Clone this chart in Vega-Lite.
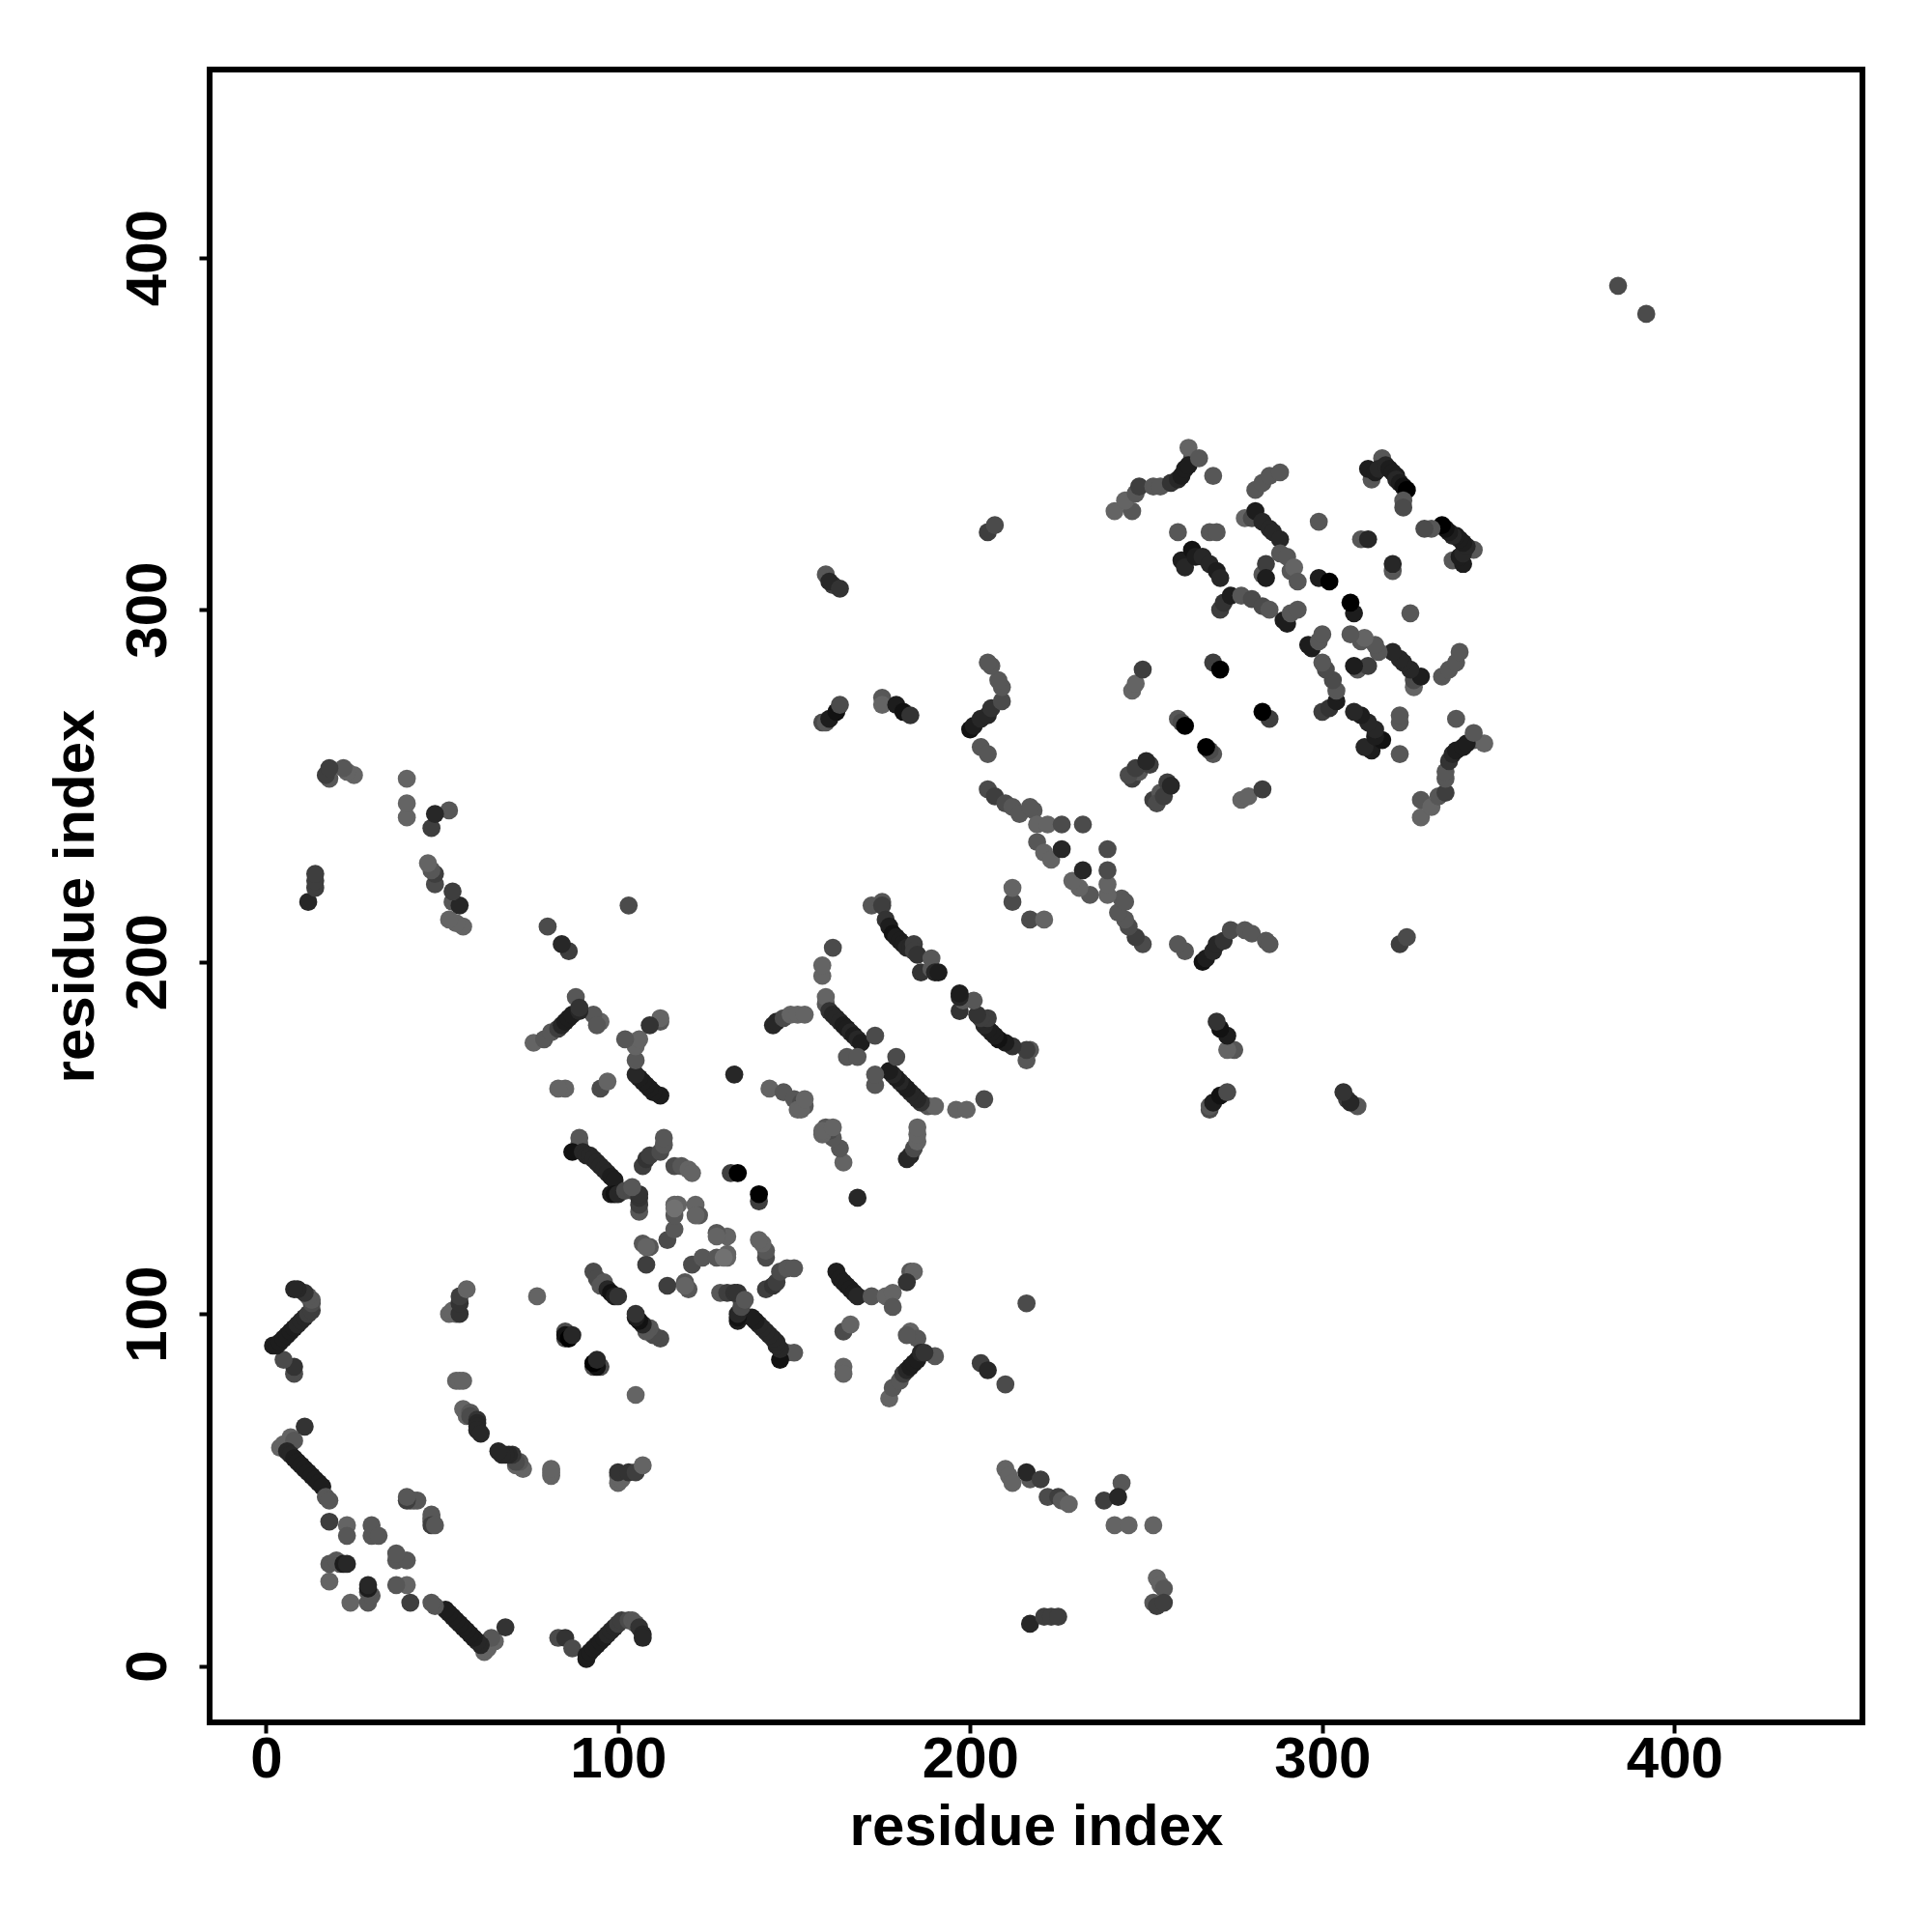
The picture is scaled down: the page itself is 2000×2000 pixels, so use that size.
{"$schema":"https://vega.github.io/schema/vega-lite/v6.json","autosize":"none","padding":{"left":217,"top":72,"right":72,"bottom":217},"width":1711,"height":1711,"background":"white","view":{"stroke":"#000","strokeWidth":6,"fill":null},
"data":{"values":[
{"i":8,"j":83,"d":6},{"i":83,"j":8,"d":6},{"i":8,"j":85,"d":4},{"i":85,"j":8,"d":4},{"i":5,"j":87,"d":6},{"i":87,"j":5,"d":6},{"i":2,"j":91,"d":2},{"i":91,"j":2,"d":2},{"i":3,"j":91,"d":2},{"i":91,"j":3,"d":2},{"i":4,"j":92,"d":2},{"i":92,"j":4,"d":2},{"i":5,"j":93,"d":2},{"i":93,"j":5,"d":2},{"i":6,"j":94,"d":2},{"i":94,"j":6,"d":2},{"i":7,"j":95,"d":2},{"i":95,"j":7,"d":2},{"i":8,"j":96,"d":2},{"i":96,"j":8,"d":2},{"i":9,"j":97,"d":3},{"i":97,"j":9,"d":3},{"i":10,"j":98,"d":3},{"i":98,"j":10,"d":3},{"i":11,"j":99,"d":3},{"i":99,"j":11,"d":3},{"i":12,"j":100,"d":5},{"i":100,"j":12,"d":5},{"i":13,"j":101,"d":5},{"i":101,"j":13,"d":5},{"i":13,"j":103,"d":6},{"i":103,"j":13,"d":6},{"i":13,"j":104,"d":7},{"i":104,"j":13,"d":7},{"i":12,"j":105,"d":7},{"i":105,"j":12,"d":7},{"i":11,"j":106,"d":4},{"i":106,"j":11,"d":4},{"i":9,"j":107,"d":3},{"i":107,"j":9,"d":3},{"i":8,"j":107,"d":3},{"i":107,"j":8,"d":3},
{"i":4,"j":62,"d":8},{"i":62,"j":4,"d":8},{"i":5,"j":63,"d":8},{"i":63,"j":5,"d":8},{"i":7,"j":65,"d":8},{"i":65,"j":7,"d":8},{"i":8,"j":64,"d":7},{"i":64,"j":8,"d":7},{"i":6,"j":61,"d":3},{"i":61,"j":6,"d":3},{"i":7,"j":60,"d":3},{"i":60,"j":7,"d":3},{"i":8,"j":59,"d":2},{"i":59,"j":8,"d":2},{"i":9,"j":58,"d":2},{"i":58,"j":9,"d":2},{"i":10,"j":57,"d":2},{"i":57,"j":10,"d":2},{"i":11,"j":56,"d":2},{"i":56,"j":11,"d":2},{"i":12,"j":55,"d":2},{"i":55,"j":12,"d":2},{"i":13,"j":54,"d":2},{"i":54,"j":13,"d":2},{"i":14,"j":53,"d":2},{"i":53,"j":14,"d":2},{"i":15,"j":52,"d":2},{"i":52,"j":15,"d":2},{"i":16,"j":51,"d":2},{"i":51,"j":16,"d":2},{"i":17,"j":48,"d":7},{"i":48,"j":17,"d":7},{"i":18,"j":47,"d":7},{"i":47,"j":18,"d":7},{"i":11,"j":68,"d":4},{"i":68,"j":11,"d":4},
{"i":18,"j":41,"d":5},{"i":41,"j":18,"d":5},{"i":18,"j":24,"d":8},{"i":24,"j":18,"d":8},{"i":23,"j":40,"d":8},{"i":40,"j":23,"d":8},{"i":23,"j":37,"d":7},{"i":37,"j":23,"d":7},{"i":18,"j":29,"d":7},{"i":29,"j":18,"d":7},{"i":21,"j":29,"d":7},{"i":29,"j":21,"d":7},{"i":20,"j":30,"d":7},{"i":30,"j":20,"d":7},{"i":22,"j":29,"d":2},{"i":29,"j":22,"d":2},{"i":23,"j":29,"d":3},{"i":29,"j":23,"d":3},{"i":30,"j":37,"d":7},{"i":37,"j":30,"d":7},{"i":30,"j":40,"d":7},{"i":40,"j":30,"d":7},{"i":32,"j":37,"d":7},{"i":37,"j":32,"d":7},{"i":41,"j":47,"d":7},{"i":47,"j":41,"d":7},{"i":42,"j":47,"d":7},{"i":47,"j":42,"d":7},{"i":43,"j":47,"d":7},{"i":47,"j":43,"d":7},{"i":47,"j":40,"d":5},{"i":40,"j":47,"d":5},{"i":48,"j":40,"d":7},{"i":40,"j":48,"d":7},
{"i":52,"j":100,"d":8},{"i":100,"j":52,"d":8},{"i":54,"j":100,"d":8},{"i":100,"j":54,"d":8},{"i":53,"j":101,"d":8},{"i":101,"j":53,"d":8},{"i":55,"j":100,"d":4},{"i":100,"j":55,"d":4},{"i":55,"j":103,"d":4},{"i":103,"j":55,"d":4},{"i":55,"j":105,"d":5},{"i":105,"j":55,"d":5},{"i":57,"j":107,"d":8},{"i":107,"j":57,"d":8},{"i":54,"j":81,"d":8},{"i":81,"j":54,"d":8},{"i":55,"j":81,"d":8},{"i":81,"j":55,"d":8},{"i":56,"j":81,"d":8},{"i":81,"j":56,"d":8},{"i":56,"j":73,"d":8},{"i":73,"j":56,"d":8},{"i":57,"j":71,"d":8},{"i":71,"j":57,"d":8},{"i":58,"j":72,"d":7},{"i":72,"j":58,"d":7},{"i":58,"j":71,"d":6},{"i":71,"j":58,"d":6},{"i":60,"j":70,"d":4},{"i":70,"j":60,"d":4},{"i":60,"j":69,"d":3},{"i":69,"j":60,"d":3},{"i":60,"j":68,"d":3},{"i":68,"j":60,"d":3},{"i":60,"j":67,"d":3},{"i":67,"j":60,"d":3},{"i":61,"j":66,"d":3},{"i":66,"j":61,"d":3},
{"i":77,"j":105,"d":8},{"i":105,"j":77,"d":8},{"i":85,"j":93,"d":6},{"i":93,"j":85,"d":6},{"i":85,"j":95,"d":6},{"i":95,"j":85,"d":6},{"i":85,"j":94,"d":1},{"i":94,"j":85,"d":1},{"i":86,"j":93,"d":0},{"i":93,"j":86,"d":0},{"i":87,"j":94,"d":3},{"i":94,"j":87,"d":3},{"i":93,"j":112,"d":6},{"i":112,"j":93,"d":6},{"i":94,"j":110,"d":6},{"i":110,"j":94,"d":6},{"i":96,"j":109,"d":7},{"i":109,"j":96,"d":7},{"i":95,"j":108,"d":7},{"i":108,"j":95,"d":7},{"i":97,"j":107,"d":3},{"i":107,"j":97,"d":3},{"i":98,"j":106,"d":1},{"i":106,"j":98,"d":1},{"i":99,"j":105,"d":2},{"i":105,"j":99,"d":2},{"i":100,"j":105,"d":4},{"i":105,"j":100,"d":4},
{"i":89,"j":148,"d":7},{"i":148,"j":89,"d":7},{"i":89,"j":150,"d":7},{"i":150,"j":89,"d":7},{"i":87,"j":146,"d":1},{"i":146,"j":87,"d":1},{"i":90,"j":146,"d":3},{"i":146,"j":90,"d":3},{"i":91,"j":145,"d":3},{"i":145,"j":91,"d":3},{"i":92,"j":145,"d":3},{"i":145,"j":92,"d":3},{"i":93,"j":144,"d":3},{"i":144,"j":93,"d":3},{"i":94,"j":143,"d":3},{"i":143,"j":94,"d":3},{"i":95,"j":142,"d":3},{"i":142,"j":95,"d":3},{"i":96,"j":141,"d":3},{"i":141,"j":96,"d":3},{"i":97,"j":140,"d":3},{"i":140,"j":97,"d":3},{"i":98,"j":139,"d":2},{"i":139,"j":98,"d":2},{"i":99,"j":138,"d":2},{"i":138,"j":99,"d":2},{"i":98,"j":134,"d":2},{"i":134,"j":98,"d":2},{"i":99,"j":134,"d":1},{"i":134,"j":99,"d":1},{"i":100,"j":134,"d":3},{"i":134,"j":100,"d":3},{"i":102,"j":135,"d":6},{"i":135,"j":102,"d":6},{"i":104,"j":135,"d":6},{"i":135,"j":104,"d":6},{"i":106,"j":129,"d":7},{"i":129,"j":106,"d":7},{"i":106,"j":131,"d":5},{"i":131,"j":106,"d":5},{"i":106,"j":133,"d":4},{"i":133,"j":106,"d":4},{"i":106,"j":134,"d":4},{"i":134,"j":106,"d":4},{"i":104,"j":136,"d":7},{"i":136,"j":104,"d":7},{"i":107,"j":142,"d":5},{"i":142,"j":107,"d":5},{"i":108,"j":144,"d":4},{"i":144,"j":108,"d":4},{"i":109,"j":145,"d":5},{"i":145,"j":109,"d":5},{"i":112,"j":146,"d":6},{"i":146,"j":112,"d":6},{"i":113,"j":148,"d":7},{"i":148,"j":113,"d":7},{"i":113,"j":150,"d":7},{"i":150,"j":113,"d":7},{"i":116,"j":142,"d":6},{"i":142,"j":116,"d":6},{"i":118,"j":142,"d":7},{"i":142,"j":118,"d":7},{"i":120,"j":141,"d":8},{"i":141,"j":120,"d":8},{"i":121,"j":140,"d":8},{"i":140,"j":121,"d":8},
{"i":107,"j":120,"d":7},{"i":120,"j":107,"d":7},{"i":109,"j":119,"d":7},{"i":119,"j":109,"d":7},{"i":108,"j":114,"d":5},{"i":114,"j":108,"d":5},{"i":114,"j":121,"d":6},{"i":121,"j":114,"d":6},{"i":116,"j":124,"d":7},{"i":124,"j":116,"d":7},{"i":117,"j":131,"d":8},{"i":131,"j":117,"d":8},{"i":116,"j":131,"d":8},{"i":131,"j":116,"d":8},{"i":122,"j":131,"d":8},{"i":131,"j":122,"d":8},{"i":123,"j":128,"d":7},{"i":128,"j":123,"d":7},{"i":116,"j":128,"d":7},{"i":128,"j":116,"d":7},{"i":130,"j":116,"d":9},{"i":116,"j":130,"d":9},{"i":128,"j":122,"d":8},{"i":122,"j":128,"d":8},{"i":119,"j":108,"d":8},{"i":108,"j":119,"d":8},
{"i":133,"j":168,"d":3},{"i":168,"j":133,"d":3},{"i":132,"j":140,"d":5},{"i":140,"j":132,"d":5},{"i":134,"j":140,"d":0},{"i":140,"j":134,"d":0},{"i":144,"j":182,"d":3},{"i":182,"j":144,"d":3},{"i":145,"j":183,"d":3},{"i":183,"j":145,"d":3},{"i":147,"j":184,"d":6},{"i":184,"j":147,"d":6},{"i":149,"j":185,"d":8},{"i":185,"j":149,"d":8},{"i":151,"j":185,"d":8},{"i":185,"j":151,"d":8},{"i":153,"j":185,"d":8},{"i":185,"j":153,"d":8},{"i":158,"j":196,"d":8},{"i":196,"j":158,"d":8},{"i":158,"j":199,"d":8},{"i":199,"j":158,"d":8},{"i":161,"j":204,"d":6},{"i":204,"j":161,"d":6},
{"i":159,"j":188,"d":7},{"i":188,"j":159,"d":7},{"i":159,"j":190,"d":8},{"i":190,"j":159,"d":8},{"i":160,"j":186,"d":4},{"i":186,"j":160,"d":4},{"i":161,"j":185,"d":3},{"i":185,"j":161,"d":3},{"i":162,"j":184,"d":3},{"i":184,"j":162,"d":3},{"i":163,"j":183,"d":3},{"i":183,"j":163,"d":3},{"i":164,"j":182,"d":2},{"i":182,"j":164,"d":2},{"i":165,"j":181,"d":2},{"i":181,"j":165,"d":2},{"i":166,"j":180,"d":3},{"i":180,"j":166,"d":3},{"i":167,"j":179,"d":2},{"i":179,"j":167,"d":2},{"i":168,"j":178,"d":3},{"i":178,"j":168,"d":3},{"i":169,"j":177,"d":2},{"i":177,"j":169,"d":2},{"i":165,"j":173,"d":7},{"i":173,"j":165,"d":7},{"i":168,"j":173,"d":7},{"i":173,"j":168,"d":7},{"i":173,"j":179,"d":6},{"i":179,"j":173,"d":6},
{"i":143,"j":164,"d":8},{"i":164,"j":143,"d":8},{"i":147,"j":163,"d":7},{"i":163,"j":147,"d":7},{"i":150,"j":161,"d":7},{"i":161,"j":150,"d":7},{"i":152,"j":160,"d":6},{"i":160,"j":152,"d":6},{"i":153,"j":159,"d":7},{"i":159,"j":153,"d":7},{"i":151,"j":158,"d":8},{"i":158,"j":151,"d":8},{"i":152,"j":158,"d":8},{"i":158,"j":152,"d":8},{"i":153,"j":161,"d":8},{"i":161,"j":153,"d":8},
{"i":172,"j":216,"d":7},{"i":216,"j":172,"d":7},{"i":175,"j":217,"d":7},{"i":217,"j":175,"d":7},{"i":175,"j":216,"d":5},{"i":216,"j":175,"d":5},{"i":176,"j":212,"d":4},{"i":212,"j":176,"d":4},{"i":177,"j":210,"d":2},{"i":210,"j":177,"d":2},{"i":178,"j":208,"d":1},{"i":208,"j":178,"d":1},{"i":179,"j":207,"d":2},{"i":207,"j":179,"d":2},{"i":180,"j":206,"d":2},{"i":206,"j":180,"d":2},{"i":181,"j":205,"d":2},{"i":205,"j":181,"d":2},{"i":182,"j":204,"d":3},{"i":204,"j":182,"d":3},{"i":183,"j":204,"d":3},{"i":204,"j":183,"d":3},{"i":184,"j":205,"d":5},{"i":205,"j":184,"d":5},{"i":184,"j":203,"d":5},{"i":203,"j":184,"d":5},{"i":185,"j":202,"d":4},{"i":202,"j":185,"d":4},{"i":186,"j":197,"d":4},{"i":197,"j":186,"d":4},{"i":189,"j":198,"d":7},{"i":198,"j":189,"d":7},{"i":189,"j":201,"d":7},{"i":201,"j":189,"d":7},{"i":190,"j":197,"d":3},{"i":197,"j":190,"d":3},{"i":191,"j":197,"d":2},{"i":197,"j":191,"d":2},
{"i":162,"j":112,"d":2},{"i":112,"j":162,"d":2},{"i":163,"j":110,"d":2},{"i":110,"j":163,"d":2},{"i":164,"j":109,"d":2},{"i":109,"j":164,"d":2},{"i":165,"j":108,"d":2},{"i":108,"j":165,"d":2},{"i":166,"j":107,"d":2},{"i":107,"j":166,"d":2},{"i":167,"j":106,"d":2},{"i":106,"j":167,"d":2},{"i":168,"j":105,"d":3},{"i":105,"j":168,"d":3},{"i":172,"j":105,"d":7},{"i":105,"j":172,"d":7},{"i":176,"j":105,"d":8},{"i":105,"j":176,"d":8},{"i":178,"j":106,"d":8},{"i":106,"j":178,"d":8},{"i":178,"j":102,"d":7},{"i":102,"j":178,"d":7},{"i":183,"j":112,"d":7},{"i":112,"j":183,"d":7},{"i":184,"j":112,"d":8},{"i":112,"j":184,"d":8},{"i":182,"j":109,"d":4},{"i":109,"j":182,"d":4},{"i":164,"j":95,"d":6},{"i":95,"j":164,"d":6},{"i":166,"j":97,"d":8},{"i":97,"j":166,"d":8},{"i":164,"j":85,"d":8},{"i":85,"j":164,"d":8},{"i":164,"j":83,"d":8},{"i":83,"j":164,"d":8},
{"i":177,"j":76,"d":8},{"i":76,"j":177,"d":8},{"i":178,"j":79,"d":7},{"i":79,"j":178,"d":7},{"i":180,"j":81,"d":7},{"i":81,"j":180,"d":7},{"i":183,"j":95,"d":8},{"i":95,"j":183,"d":8},{"i":185,"j":93,"d":7},{"i":93,"j":185,"d":7},{"i":182,"j":94,"d":7},{"i":94,"j":182,"d":7},{"i":190,"j":88,"d":7},{"i":88,"j":190,"d":7},{"i":181,"j":83,"d":5},{"i":83,"j":181,"d":5},{"i":182,"j":84,"d":3},{"i":84,"j":182,"d":3},{"i":183,"j":85,"d":2},{"i":85,"j":183,"d":2},{"i":184,"j":86,"d":2},{"i":86,"j":184,"d":2},{"i":185,"j":87,"d":2},{"i":87,"j":185,"d":2},{"i":186,"j":89,"d":3},{"i":89,"j":186,"d":3},{"i":187,"j":89,"d":4},{"i":89,"j":187,"d":4},
{"i":203,"j":86,"d":5},{"i":86,"j":203,"d":5},{"i":205,"j":84,"d":3},{"i":84,"j":205,"d":3},{"i":210,"j":80,"d":6},{"i":80,"j":210,"d":6},{"i":216,"j":103,"d":6},{"i":103,"j":216,"d":6},
{"i":210,"j":56,"d":8},{"i":56,"j":210,"d":8},{"i":211,"j":54,"d":8},{"i":54,"j":211,"d":8},{"i":212,"j":52,"d":8},{"i":52,"j":212,"d":8},{"i":217,"j":53,"d":7},{"i":53,"j":217,"d":7},{"i":216,"j":55,"d":3},{"i":55,"j":216,"d":3},{"i":220,"j":53,"d":5},{"i":53,"j":220,"d":5},{"i":222,"j":48,"d":6},{"i":48,"j":222,"d":6},{"i":225,"j":48,"d":5},{"i":48,"j":225,"d":5},{"i":226,"j":47,"d":7},{"i":47,"j":226,"d":7},{"i":228,"j":46,"d":8},{"i":46,"j":228,"d":8},{"i":238,"j":47,"d":5},{"i":47,"j":238,"d":5},{"i":243,"j":52,"d":7},{"i":52,"j":243,"d":7},{"i":242,"j":48,"d":3},{"i":48,"j":242,"d":3},{"i":241,"j":40,"d":8},{"i":40,"j":241,"d":8},{"i":245,"j":40,"d":8},{"i":40,"j":245,"d":8},{"i":252,"j":40,"d":8},{"i":40,"j":252,"d":8},{"i":253,"j":25,"d":8},{"i":25,"j":253,"d":8},{"i":254,"j":23,"d":8},{"i":23,"j":254,"d":8},{"i":255,"j":22,"d":7},{"i":22,"j":255,"d":7},{"i":252,"j":18,"d":7},{"i":18,"j":252,"d":7},{"i":253,"j":17,"d":5},{"i":17,"j":253,"d":5},{"i":255,"j":18,"d":5},{"i":18,"j":255,"d":5},{"i":217,"j":12,"d":3},{"i":12,"j":217,"d":3},{"i":221,"j":14,"d":5},{"i":14,"j":221,"d":5},{"i":223,"j":14,"d":5},{"i":14,"j":223,"d":5},{"i":225,"j":14,"d":5},{"i":14,"j":225,"d":5},
{"i":158,"j":268,"d":6},{"i":268,"j":158,"d":6},{"i":159,"j":268,"d":7},{"i":268,"j":159,"d":7},{"i":160,"j":269,"d":2},{"i":269,"j":160,"d":2},{"i":162,"j":271,"d":1},{"i":271,"j":162,"d":1},{"i":163,"j":273,"d":6},{"i":273,"j":163,"d":6},{"i":159,"j":310,"d":7},{"i":310,"j":159,"d":7},{"i":161,"j":307,"d":5},{"i":307,"j":161,"d":5},{"i":160,"j":308,"d":3},{"i":308,"j":160,"d":3},{"i":163,"j":306,"d":4},{"i":306,"j":163,"d":4},{"i":175,"j":275,"d":7},{"i":275,"j":175,"d":7},{"i":175,"j":273,"d":8},{"i":273,"j":175,"d":8},{"i":179,"j":273,"d":2},{"i":273,"j":179,"d":2},{"i":181,"j":271,"d":1},{"i":271,"j":181,"d":1},{"i":183,"j":270,"d":4},{"i":270,"j":183,"d":4},
{"i":200,"j":266,"d":1},{"i":266,"j":200,"d":1},{"i":201,"j":267,"d":2},{"i":267,"j":201,"d":2},{"i":203,"j":269,"d":3},{"i":269,"j":203,"d":3},{"i":205,"j":270,"d":3},{"i":270,"j":205,"d":3},{"i":206,"j":272,"d":4},{"i":272,"j":206,"d":4},{"i":209,"j":274,"d":6},{"i":274,"j":209,"d":6},{"i":209,"j":278,"d":7},{"i":278,"j":209,"d":7},{"i":208,"j":280,"d":7},{"i":280,"j":208,"d":7},{"i":206,"j":284,"d":7},{"i":284,"j":206,"d":7},{"i":205,"j":285,"d":7},{"i":285,"j":205,"d":7},{"i":203,"j":261,"d":7},{"i":261,"j":203,"d":7},{"i":205,"j":259,"d":7},{"i":259,"j":205,"d":7},
{"i":205,"j":249,"d":6},{"i":249,"j":205,"d":6},{"i":207,"j":247,"d":5},{"i":247,"j":207,"d":5},{"i":210,"j":245,"d":6},{"i":245,"j":210,"d":6},{"i":212,"j":244,"d":7},{"i":244,"j":212,"d":7},{"i":214,"j":242,"d":7},{"i":242,"j":214,"d":7},{"i":218,"j":243,"d":7},{"i":243,"j":218,"d":7},{"i":217,"j":244,"d":7},{"i":244,"j":217,"d":7},{"i":219,"j":239,"d":8},{"i":239,"j":219,"d":8},{"i":222,"j":239,"d":8},{"i":239,"j":222,"d":8},{"i":226,"j":239,"d":6},{"i":239,"j":226,"d":6},{"i":232,"j":239,"d":6},{"i":239,"j":232,"d":6},{"i":219,"j":234,"d":7},{"i":234,"j":219,"d":7},{"i":221,"j":231,"d":8},{"i":231,"j":221,"d":8},{"i":223,"j":229,"d":8},{"i":229,"j":223,"d":8},{"i":226,"j":232,"d":3},{"i":232,"j":226,"d":3},{"i":212,"j":217,"d":6},{"i":217,"j":212,"d":6},{"i":212,"j":221,"d":8},{"i":221,"j":212,"d":8},
{"i":241,"j":328,"d":8},{"i":328,"j":241,"d":8},{"i":246,"j":328,"d":7},{"i":328,"j":246,"d":7},{"i":244,"j":331,"d":8},{"i":331,"j":244,"d":8},{"i":247,"j":333,"d":7},{"i":333,"j":247,"d":7},{"i":248,"j":335,"d":5},{"i":335,"j":248,"d":5},{"i":252,"j":335,"d":7},{"i":335,"j":252,"d":7},{"i":254,"j":335,"d":7},{"i":335,"j":254,"d":7},{"i":263,"j":343,"d":7},{"i":343,"j":263,"d":7},{"i":262,"j":346,"d":8},{"i":346,"j":262,"d":8},{"i":269,"j":338,"d":7},{"i":338,"j":269,"d":7},{"i":257,"j":336,"d":4},{"i":336,"j":257,"d":4},{"i":259,"j":337,"d":3},{"i":337,"j":259,"d":3},{"i":260,"j":338,"d":2},{"i":338,"j":260,"d":2},{"i":261,"j":340,"d":2},{"i":340,"j":261,"d":2},{"i":262,"j":341,"d":2},{"i":341,"j":262,"d":2},{"i":265,"j":343,"d":7},{"i":343,"j":265,"d":7},
{"i":246,"j":277,"d":8},{"i":277,"j":246,"d":8},{"i":247,"j":279,"d":8},{"i":279,"j":247,"d":8},{"i":249,"j":283,"d":5},{"i":283,"j":249,"d":5},{"i":246,"j":252,"d":5},{"i":252,"j":246,"d":5},{"i":248,"j":254,"d":7},{"i":254,"j":248,"d":7},{"i":251,"j":256,"d":5},{"i":256,"j":251,"d":5},{"i":253,"j":245,"d":6},{"i":245,"j":253,"d":6},{"i":255,"j":247,"d":5},{"i":247,"j":255,"d":5},{"i":257,"j":250,"d":3},{"i":250,"j":257,"d":3},
{"i":259,"j":269,"d":7},{"i":269,"j":259,"d":7},{"i":260,"j":268,"d":6},{"i":268,"j":260,"d":6},{"i":261,"j":267,"d":0},{"i":267,"j":261,"d":0},{"i":205,"j":322,"d":5},{"i":322,"j":205,"d":5},{"i":207,"j":324,"d":6},{"i":324,"j":207,"d":6},{"i":259,"j":322,"d":7},{"i":322,"j":259,"d":7},{"i":268,"j":322,"d":7},{"i":322,"j":268,"d":7},{"i":270,"j":322,"d":7},{"i":322,"j":270,"d":7},{"i":269,"j":285,"d":5},{"i":285,"j":269,"d":5},{"i":271,"j":283,"d":0},{"i":283,"j":271,"d":0},{"i":299,"j":325,"d":7},{"i":325,"j":299,"d":7},
{"i":271,"j":300,"d":5},{"i":300,"j":271,"d":5},{"i":272,"j":302,"d":4},{"i":302,"j":272,"d":4},{"i":260,"j":314,"d":2},{"i":314,"j":260,"d":2},{"i":261,"j":312,"d":3},{"i":312,"j":261,"d":3},{"i":263,"j":317,"d":1},{"i":317,"j":263,"d":1},{"i":264,"j":315,"d":2},{"i":315,"j":264,"d":2},{"i":266,"j":315,"d":3},{"i":315,"j":266,"d":3},{"i":268,"j":313,"d":3},{"i":313,"j":268,"d":3},{"i":270,"j":311,"d":2},{"i":311,"j":270,"d":2},{"i":271,"j":309,"d":3},{"i":309,"j":271,"d":3},{"i":274,"j":304,"d":2},{"i":304,"j":274,"d":2},{"i":277,"j":304,"d":7},{"i":304,"j":277,"d":7},{"i":280,"j":303,"d":6},{"i":303,"j":280,"d":6},{"i":283,"j":301,"d":6},{"i":301,"j":283,"d":6},{"i":285,"j":300,"d":7},{"i":300,"j":285,"d":7},{"i":289,"j":297,"d":2},{"i":297,"j":289,"d":2},{"i":290,"j":296,"d":2},{"i":296,"j":290,"d":2},{"i":291,"j":299,"d":7},{"i":299,"j":291,"d":7},{"i":293,"j":300,"d":7},{"i":300,"j":293,"d":7},
{"i":278,"j":326,"d":8},{"i":326,"j":278,"d":8},{"i":280,"j":326,"d":6},{"i":326,"j":280,"d":6},{"i":281,"j":328,"d":2},{"i":328,"j":281,"d":2},{"i":283,"j":325,"d":3},{"i":325,"j":283,"d":3},{"i":285,"j":323,"d":3},{"i":323,"j":285,"d":3},{"i":286,"j":322,"d":3},{"i":322,"j":286,"d":3},{"i":288,"j":320,"d":3},{"i":320,"j":288,"d":3},{"i":288,"j":316,"d":7},{"i":316,"j":288,"d":7},{"i":290,"j":315,"d":7},{"i":315,"j":290,"d":7},{"i":291,"j":311,"d":7},{"i":311,"j":291,"d":7},{"i":292,"j":312,"d":8},{"i":312,"j":292,"d":8},{"i":293,"j":308,"d":7},{"i":308,"j":293,"d":7},{"i":281,"j":334,"d":7},{"i":334,"j":281,"d":7},{"i":283,"j":336,"d":7},{"i":336,"j":283,"d":7},{"i":285,"j":338,"d":7},{"i":338,"j":285,"d":7},{"i":288,"j":339,"d":7},{"i":339,"j":288,"d":7},{"i":283,"j":310,"d":7},{"i":310,"j":283,"d":7},{"i":284,"j":313,"d":5},{"i":313,"j":284,"d":5},{"i":284,"j":309,"d":2},{"i":309,"j":284,"d":2},{"i":299,"j":309,"d":2},{"i":309,"j":299,"d":2},{"i":302,"j":308,"d":0},{"i":308,"j":302,"d":0},{"i":311,"j":320,"d":7},{"i":320,"j":311,"d":7},{"i":313,"j":320,"d":3},{"i":320,"j":313,"d":3},
{"i":314,"j":337,"d":7},{"i":337,"j":314,"d":7},{"i":317,"j":343,"d":7},{"i":343,"j":317,"d":7},{"i":313,"j":340,"d":2},{"i":340,"j":313,"d":2},{"i":315,"j":339,"d":2},{"i":339,"j":315,"d":2},{"i":316,"j":340,"d":3},{"i":340,"j":316,"d":3},{"i":318,"j":341,"d":3},{"i":341,"j":318,"d":3},{"i":319,"j":340,"d":2},{"i":340,"j":319,"d":2},{"i":320,"j":339,"d":2},{"i":339,"j":320,"d":2},{"i":321,"j":338,"d":2},{"i":338,"j":321,"d":2},{"i":321,"j":337,"d":3},{"i":337,"j":321,"d":3},{"i":322,"j":336,"d":2},{"i":336,"j":322,"d":2},{"i":323,"j":335,"d":1},{"i":335,"j":323,"d":1},{"i":324,"j":334,"d":0},{"i":334,"j":324,"d":0},{"i":323,"j":331,"d":7},{"i":331,"j":323,"d":7},{"i":323,"j":329,"d":6},{"i":329,"j":323,"d":6},
{"i":384,"j":392,"d":6},{"i":392,"j":384,"d":6}
]},
"mark":{"type":"circle","size":350,"opacity":1},
"encoding":{
"x":{"field":"i","type":"quantitative","title":"residue index","scale":{"domain":[-16,453.4],"nice":false,"zero":false},"axis":{"values":[0,100,200,300,400],"grid":false,"domain":false,"tickColor":"#000","tickWidth":4,"tickSize":11,"labelFont":"Liberation Sans","labelFontWeight":"bold","labelFontSize":60,"labelColor":"#000","labelPadding":-2,"titleFont":"Liberation Sans","titleFontWeight":"bold","titleFontSize":60,"titleColor":"#000","titlePadding":11}},
"y":{"field":"j","type":"quantitative","title":"residue index","scale":{"domain":[-16,453.4],"nice":false,"zero":false},"axis":{"values":[0,100,200,300,400],"grid":false,"domain":false,"tickColor":"#000","tickWidth":4,"tickSize":11,"labelAngle":-90,"labelAlign":"center","labelBaseline":"bottom","labelFont":"Liberation Sans","labelFontWeight":"bold","labelFontSize":60,"labelColor":"#000","labelPadding":22,"titleFont":"Liberation Sans","titleFontWeight":"bold","titleFontSize":60,"titleColor":"#000","titlePadding":14}},
"color":{"field":"d","type":"quantitative","legend":null,"scale":{"domain":[0,10],"range":["#000000","#7e7e7e"]}}
}}
